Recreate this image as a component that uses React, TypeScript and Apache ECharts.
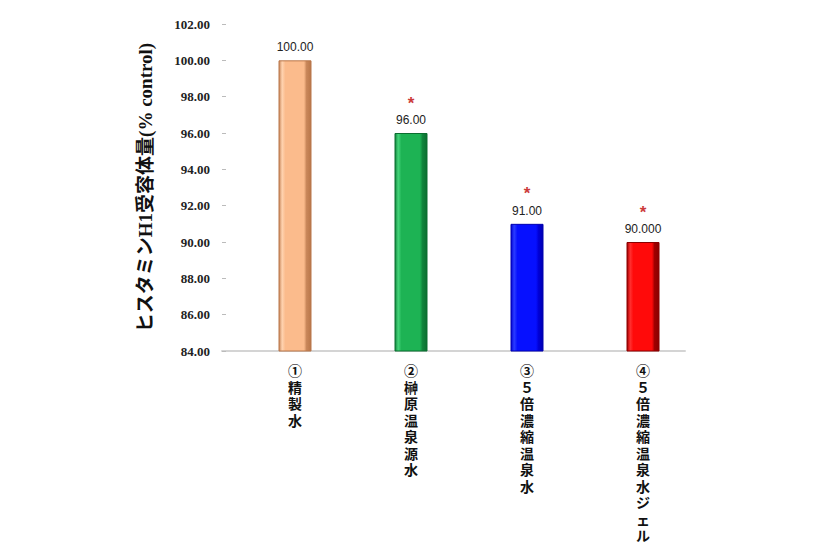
import React, { useEffect, useRef } from "react";
import * as echarts from "echarts";

const categories = ["①精製水", "②榊原温泉源水", "③５倍濃縮温泉水", "④５倍濃縮温泉水ジェル"];
const values = [100, 96, 91, 90];
const valueLabels = ["100.00", "96.00", "91.00", "90.000"];
const significant = [false, true, true, true];
const yMin = 84;
const yMax = 102;
const yInterval = 2;
const yTitle = "ヒスタミンH1受容体量(% control)";

const barColors = [
  { edge: "#b9774a", dark: "#c9875a", light: "#ffd3b0", main: "#fbbb8c" },
  { edge: "#0b6e30", dark: "#10853c", light: "#45d57a", main: "#1db354" },
  { edge: "#0000b0", dark: "#0000d8", light: "#2a3cff", main: "#0610ff" },
  { edge: "#8a0000", dark: "#a00000", light: "#ff3030", main: "#ff0a0a" },
];

function grad(c: { edge: string; dark: string; light: string; main: string }) {
  return new echarts.graphic.LinearGradient(0, 0, 1, 0, [
    { offset: 0, color: c.dark },
    { offset: 0.1, color: c.light },
    { offset: 0.2, color: c.main },
    { offset: 0.78, color: c.main },
    { offset: 0.86, color: c.dark },
    { offset: 1, color: c.edge },
  ]);
}

export default function App() {
  const ref = useRef<HTMLDivElement>(null);
  useEffect(() => {
    if (!ref.current) return;
    const chart = echarts.init(ref.current, null, { renderer: "svg" });
    const data = values.map((v, i) => ({
      value: v,
      itemStyle: { color: grad(barColors[i]), borderColor: barColors[i].edge, borderWidth: 1 },
      label: {
        formatter: significant[i] ? `{s|*}\n{v|${valueLabels[i]}}` : `{v|${valueLabels[i]}}`,
      },
    }));
    chart.setOption({
      animation: false,
      backgroundColor: "#ffffff",
      grid: [
        { left: 222, width: 463, top: 24, height: 327 },
        { left: 237, width: 464, top: 24, height: 327 },
      ],
      xAxis: [
        {
          type: "category",
          gridIndex: 0,
          data: categories,
          axisLine: { show: true, lineStyle: { color: "#d4d4d4", width: 2 } },
          axisTick: { show: false },
          axisLabel: { show: false },
        },
        {
          type: "category",
          gridIndex: 1,
          data: categories,
          axisLine: { show: false },
          axisTick: { show: false },
          axisLabel: {
            margin: 11,
            interval: 0,
            fontFamily: "'Noto Sans CJK JP', sans-serif",
            fontWeight: "bold",
            fontSize: 14,
            lineHeight: 16.5,
            color: "#111",
            verticalAlign: "top",
            formatter: (v: string) => Array.from(v).join("\n"),
          },
        },
      ],
      yAxis: [
        {
          type: "value",
          gridIndex: 0,
          min: yMin,
          max: yMax,
          interval: yInterval,
          splitLine: { show: false },
          axisLine: { show: false },
          axisTick: { show: true, inside: true, length: 4, lineStyle: { color: "#bbbbbb" } },
          axisLabel: {
            margin: 12,
            fontFamily: "'Liberation Serif', serif",
            fontWeight: "bold",
            fontSize: 13,
            color: "#222",
            formatter: (v: number) => v.toFixed(2),
          },
          name: yTitle,
          nameLocation: "middle",
          nameRotate: 90,
          nameGap: 67,
          nameTextStyle: {
            fontFamily: "'Liberation Serif', 'Noto Sans CJK JP', serif",
            fontWeight: "bold",
            fontSize: 19,
            color: "#111",
          },
        },
        {
          type: "value",
          gridIndex: 1,
          min: yMin,
          max: yMax,
          interval: yInterval,
          show: false,
        },
      ],
      series: [
        {
          type: "bar",
          xAxisIndex: 1,
          yAxisIndex: 1,
          barWidth: 33,
          data,
          label: {
            show: true,
            position: "top",
            distance: 6,
            align: "center",
            rich: {
              s: {
                color: "#cc3b3b",
                fontSize: 17,
                fontWeight: "bold",
                fontFamily: "'Liberation Sans', Arial, sans-serif",
                lineHeight: 20,
              },
              v: {
                color: "#222",
                fontSize: 12,
                fontFamily: "'Liberation Sans', Arial, sans-serif",
                lineHeight: 14,
              },
            },
          },
        },
      ],
    });
    return () => chart.dispose();
  }, []);
  return (
    <div
      ref={ref}
      style={{ position: "fixed", left: 0, top: 0, width: 840, height: 560, background: "#fff" }}
    />
  );
}
